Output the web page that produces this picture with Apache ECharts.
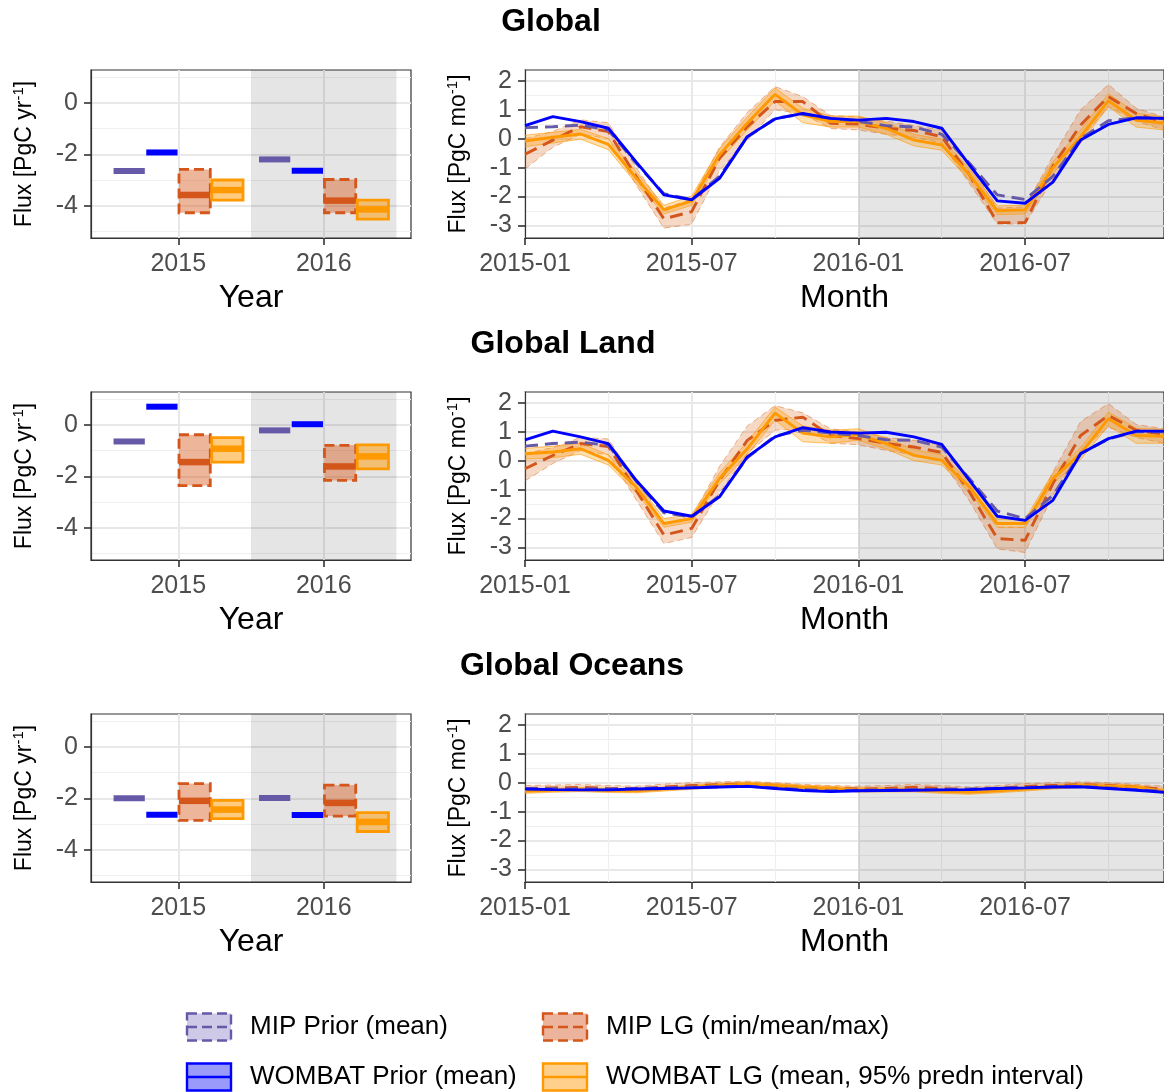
<!DOCTYPE html>
<html>
<head>
<meta charset="utf-8">
<script src="https://cdn.jsdelivr.net/npm/echarts@6/dist/echarts.min.js"></script>
<style>
  html, body { margin: 0; padding: 0; background: #fff; }
  #chart { width: 1164px; height: 1092px; }
</style>
</head>
<body>
<div id="chart"></div>
<script>
const years = [2015, 2016];
const monthLabels = [
  '2015-01', '2015-02', '2015-03', '2015-04', '2015-05', '2015-06',
  '2015-07', '2015-08', '2015-09', '2015-10', '2015-11', '2015-12',
  '2016-01', '2016-02', '2016-03', '2016-04', '2016-05', '2016-06',
  '2016-07', '2016-08', '2016-09', '2016-10', '2016-11', '2016-12'
];
const monthMajorTicks = [0, 6, 12, 18];
const monthMinorTicks = [3, 9, 15, 21];

// Global - annual
const globalYrMipPrior = [-2.65, -2.20];
const globalYrWombatPrior = [-1.93, -2.64];
const globalYrMipLg = [-3.58, -3.80];
const globalYrMipLgMin = [-4.27, -4.27];
const globalYrMipLgMax = [-2.59, -2.98];
const globalYrWombatLg = [-3.39, -4.14];
const globalYrWombatLgLo = [-3.78, -4.52];
const globalYrWombatLgHi = [-3.00, -3.78];

// Global - monthly
const globalMoMipPrior = [0.38, 0.41, 0.47, 0.30, -0.85, -1.90, -2.10, -1.30, 0.05, 0.70, 0.85, 0.70, 0.60, 0.45, 0.40, 0.15, -0.85, -1.94, -2.10, -1.30, 0.00, 0.62, 0.72, 0.70];
const globalMoWombatPrior = [0.45, 0.76, 0.59, 0.36, -0.80, -1.94, -2.11, -1.37, 0.07, 0.68, 0.87, 0.70, 0.64, 0.70, 0.59, 0.36, -0.91, -2.15, -2.23, -1.50, -0.05, 0.49, 0.72, 0.70];
const globalMoMipLg = [-0.54, -0.05, 0.41, 0.24, -1.30, -2.77, -2.52, -0.68, 0.41, 1.28, 1.28, 0.53, 0.50, 0.36, 0.28, 0.07, -1.25, -2.90, -2.90, -0.95, 0.47, 1.45, 0.87, 0.55];
const globalMoMipLgMin = [-1.05, -0.30, 0.15, 0.00, -1.60, -3.09, -2.95, -1.10, -0.05, 1.00, 0.85, 0.35, 0.30, 0.15, 0.05, -0.15, -1.55, -2.95, -2.95, -1.40, 0.00, 1.10, 0.60, 0.30];
const globalMoMipLgMax = [0.00, 0.25, 0.65, 0.55, -1.00, -2.40, -2.10, -0.30, 0.90, 1.80, 1.45, 0.80, 0.75, 0.60, 0.45, 0.30, -0.90, -2.40, -2.35, -0.60, 1.00, 1.87, 1.05, 0.75];
const globalMoWombatLg = [-0.08, 0.05, 0.16, -0.20, -1.36, -2.46, -2.15, -0.56, 0.53, 1.53, 0.82, 0.59, 0.59, 0.36, -0.05, -0.22, -1.25, -2.49, -2.46, -1.00, 0.07, 1.31, 0.64, 0.53];
const globalMoWombatLgLo = [-0.28, -0.15, -0.02, -0.38, -1.55, -2.60, -2.30, -0.75, 0.30, 1.30, 0.55, 0.40, 0.40, 0.15, -0.25, -0.40, -1.45, -2.62, -2.60, -1.20, -0.15, 1.10, 0.40, 0.30];
const globalMoWombatLgHi = [0.12, 0.22, 0.32, 0.00, -1.15, -2.30, -1.98, -0.35, 0.75, 1.75, 1.05, 0.78, 0.78, 0.55, 0.15, -0.02, -1.05, -2.32, -2.30, -0.80, 0.30, 1.55, 0.88, 0.75];

// Global Land - annual
const landYrMipPrior = [-0.65, -0.22];
const landYrWombatPrior = [0.70, 0.02];
const landYrMipLg = [-1.45, -1.62];
const landYrMipLgMin = [-2.36, -2.16];
const landYrMipLgMax = [-0.39, -0.80];
const landYrWombatLg = [-0.93, -1.23];
const landYrWombatLgLo = [-1.45, -1.71];
const landYrWombatLgHi = [-0.50, -0.78];

// Global Land - monthly
const landMoMipPrior = [0.50, 0.59, 0.64, 0.53, -0.70, -1.80, -1.95, -1.20, 0.10, 0.85, 1.05, 0.95, 0.87, 0.72, 0.70, 0.47, -0.62, -1.74, -2.00, -1.20, 0.25, 0.75, 1.00, 1.00];
const landMoWombatPrior = [0.72, 1.02, 0.82, 0.59, -0.68, -1.74, -1.92, -1.25, 0.13, 0.82, 1.14, 0.99, 0.95, 0.98, 0.82, 0.56, -0.68, -1.92, -2.06, -1.37, 0.24, 0.76, 1.02, 1.02];
const landMoMipLg = [-0.28, 0.18, 0.59, 0.49, -1.02, -2.57, -2.34, -0.68, 0.70, 1.39, 1.50, 0.87, 0.76, 0.59, 0.47, 0.28, -1.08, -2.69, -2.75, -0.79, 0.87, 1.56, 1.05, 0.90];
const landMoMipLgMin = [-0.70, -0.10, 0.35, 0.20, -1.35, -2.86, -2.65, -1.10, 0.25, 1.05, 1.10, 0.60, 0.55, 0.35, 0.20, 0.00, -1.40, -3.05, -3.17, -1.20, 0.35, 1.15, 0.80, 0.60];
const landMoMipLgMax = [0.25, 0.45, 0.80, 0.75, -0.70, -2.17, -1.95, -0.20, 1.20, 1.90, 1.65, 1.10, 1.00, 0.80, 0.70, 0.55, -0.75, -2.30, -2.30, -0.40, 1.35, 1.97, 1.25, 1.10];
const landMoWombatLg = [0.24, 0.30, 0.41, 0.01, -0.91, -2.17, -2.00, -0.62, 0.41, 1.64, 0.95, 0.82, 0.90, 0.59, 0.18, 0.01, -0.91, -2.17, -2.17, -0.62, 0.24, 1.45, 0.87, 0.84];
const landMoWombatLgLo = [0.05, 0.10, 0.22, -0.15, -1.10, -2.30, -2.12, -0.80, 0.20, 1.40, 0.65, 0.60, 0.70, 0.40, 0.00, -0.15, -1.10, -2.30, -2.30, -0.80, 0.05, 1.20, 0.60, 0.60];
const landMoWombatLgHi = [0.42, 0.50, 0.60, 0.20, -0.72, -2.00, -1.85, -0.42, 0.65, 1.85, 1.20, 1.05, 1.10, 0.78, 0.38, 0.20, -0.72, -2.02, -2.02, -0.42, 0.45, 1.68, 1.12, 1.08];

// Global Oceans - annual
const oceanYrMipPrior = [-2.00, -1.99];
const oceanYrWombatPrior = [-2.64, -2.65];
const oceanYrMipLg = [-2.10, -2.18];
const oceanYrMipLgMin = [-2.86, -2.69];
const oceanYrMipLgMax = [-1.43, -1.49];
const oceanYrWombatLg = [-2.44, -2.92];
const oceanYrWombatLgLo = [-2.79, -3.29];
const oceanYrWombatLgHi = [-2.08, -2.56];

// Global Oceans - monthly
const oceanMoMipPrior = [-0.20, -0.21, -0.22, -0.22, -0.20, -0.18, -0.16, -0.14, -0.12, -0.18, -0.24, -0.28, -0.26, -0.25, -0.24, -0.23, -0.22, -0.19, -0.17, -0.14, -0.13, -0.18, -0.24, -0.30];
const oceanMoWombatPrior = [-0.22, -0.24, -0.25, -0.25, -0.22, -0.20, -0.18, -0.15, -0.13, -0.20, -0.27, -0.31, -0.28, -0.27, -0.26, -0.25, -0.24, -0.20, -0.18, -0.15, -0.14, -0.20, -0.26, -0.33];
const oceanMoMipLg = [-0.20, -0.18, -0.16, -0.20, -0.22, -0.15, -0.10, -0.07, -0.05, -0.10, -0.16, -0.20, -0.22, -0.20, -0.16, -0.20, -0.25, -0.20, -0.13, -0.10, -0.07, -0.10, -0.16, -0.22];
const oceanMoMipLgMin = [-0.30, -0.28, -0.26, -0.30, -0.32, -0.25, -0.20, -0.17, -0.15, -0.20, -0.26, -0.30, -0.32, -0.30, -0.26, -0.30, -0.35, -0.30, -0.23, -0.20, -0.17, -0.20, -0.26, -0.32];
const oceanMoMipLgMax = [-0.10, -0.08, -0.06, -0.10, -0.12, -0.05, 0.00, 0.03, 0.05, 0.00, -0.06, -0.10, -0.12, -0.10, -0.06, -0.10, -0.15, -0.10, -0.03, 0.00, 0.03, 0.00, -0.06, -0.12];
const oceanMoWombatLg = [-0.30, -0.26, -0.24, -0.27, -0.28, -0.22, -0.16, -0.10, -0.05, -0.10, -0.16, -0.20, -0.25, -0.25, -0.25, -0.30, -0.33, -0.28, -0.22, -0.15, -0.10, -0.12, -0.16, -0.30];
const oceanMoWombatLgLo = [-0.37, -0.33, -0.31, -0.34, -0.35, -0.29, -0.23, -0.17, -0.12, -0.17, -0.23, -0.27, -0.32, -0.32, -0.32, -0.37, -0.40, -0.35, -0.29, -0.22, -0.17, -0.19, -0.23, -0.37];
const oceanMoWombatLgHi = [-0.23, -0.19, -0.17, -0.20, -0.21, -0.15, -0.09, -0.03, 0.02, -0.03, -0.09, -0.13, -0.18, -0.18, -0.18, -0.23, -0.26, -0.21, -0.15, -0.08, -0.03, -0.05, -0.09, -0.23];

const regions = [
  { title: 'Global', titleX: 551,
    yr: [globalYrMipPrior, globalYrWombatPrior, globalYrMipLg, globalYrMipLgMin, globalYrMipLgMax, globalYrWombatLg, globalYrWombatLgLo, globalYrWombatLgHi],
    mo: [globalMoMipPrior, globalMoWombatPrior, globalMoMipLg, globalMoMipLgMin, globalMoMipLgMax, globalMoWombatLg, globalMoWombatLgLo, globalMoWombatLgHi] },
  { title: 'Global Land', titleX: 563,
    yr: [landYrMipPrior, landYrWombatPrior, landYrMipLg, landYrMipLgMin, landYrMipLgMax, landYrWombatLg, landYrWombatLgLo, landYrWombatLgHi],
    mo: [landMoMipPrior, landMoWombatPrior, landMoMipLg, landMoMipLgMin, landMoMipLgMax, landMoWombatLg, landMoWombatLgLo, landMoWombatLgHi] },
  { title: 'Global Oceans', titleX: 572,
    yr: [oceanYrMipPrior, oceanYrWombatPrior, oceanYrMipLg, oceanYrMipLgMin, oceanYrMipLgMax, oceanYrWombatLg, oceanYrWombatLgLo, oceanYrWombatLgHi],
    mo: [oceanMoMipPrior, oceanMoWombatPrior, oceanMoMipLg, oceanMoMipLgMin, oceanMoMipLgMax, oceanMoWombatLg, oceanMoWombatLgLo, oceanMoWombatLgHi] }
];

const FONT = 'Liberation Sans, Arial, Helvetica, sans-serif';
const ROW_TOPS = [70, 392, 714];
const PANEL_H = 168;
const BOX_W = 0.215;

const styles = {
  mipPrior:    { line: '#6659a8', key: '#cdc9e6', dash: [10, 5] },
  wombatPrior: { line: '#0000ff', key: '#9a9afa', dash: null },
  mipLg:       { line: '#d4561a', key: '#ecb49c', dash: [10, 5], fill: 'rgba(214,92,28,0.45)', band: 'rgba(217,95,14,0.24)', edge: 'rgba(217,95,14,0.45)' },
  wombatLg:    { line: '#ff9900', key: '#ffd08c', dash: null, fill: 'rgba(255,153,0,0.5)', band: 'rgba(255,153,0,0.3)', edge: 'rgba(255,153,0,0.6)' }
};

const majorGrid = { show: true, lineStyle: { color: '#e8e8e8', width: 2 } };
const minorGrid = { show: true, lineStyle: { color: '#efefef', width: 1.2 } };

function axisLineOpt() {
  return { show: true, onZero: false, lineStyle: { color: '#333', width: 1.2 } };
}
function tickOpt(values) {
  return { show: true, customValues: values, length: 7, lineStyle: { color: '#333', width: 1.6 } };
}
function labelOpt(values, margin, formatter) {
  return { customValues: values, margin, formatter, color: '#4d4d4d', fontSize: 25, fontFamily: FONT };
}
const axisTitle = { fontSize: 32, fontFamily: FONT, color: '#000' };

const chart = echarts.init(document.getElementById('chart'));

const grids = [], xAxes = [], yAxes = [], series = [], graphics = [];

function crossbar(offset, st, isPrior) {
  return function (params, api) {
    const x = api.value(0) + offset;
    const mean = api.value(1), lo = api.value(2), hi = api.value(3);
    const a = api.coord([x - BOX_W / 2, hi]);
    const b = api.coord([x + BOX_W / 2, lo]);
    const ml = api.coord([x - BOX_W / 2, mean]);
    const mr = api.coord([x + BOX_W / 2, mean]);
    const children = [];
    if (!isPrior) {
      children.push({
        type: 'rect',
        shape: { x: a[0], y: a[1], width: b[0] - a[0], height: b[1] - a[1] },
        style: { fill: st.fill, stroke: st.line, lineWidth: 2.8, lineDash: st.dash }
      });
    }
    children.push({
      type: 'line',
      shape: { x1: ml[0], y1: ml[1], x2: mr[0], y2: mr[1] },
      style: { stroke: st.line, lineWidth: isPrior ? 6 : 6.5 }
    });
    return { type: 'group', children };
  };
}

function band(lo, hi, st) {
  return function (params, api) {
    if (params.dataIndex !== 0) return null;
    const upper = hi.map((v, i) => api.coord([i, v]));
    const lower = lo.map((v, i) => api.coord([i, v]));
    const edgeStyle = { stroke: st.edge, lineWidth: 1, fill: null, lineDash: st.dash ? [6, 4] : null };
    return {
      type: 'group',
      children: [
        { type: 'polygon', shape: { points: upper.concat(lower.slice().reverse()) }, style: { fill: st.band } },
        { type: 'polyline', shape: { points: upper }, style: edgeStyle },
        { type: 'polyline', shape: { points: lower }, style: edgeStyle }
      ]
    };
  };
}

function lineSeries(xi, yi, values, st, z) {
  return {
    type: 'line', xAxisIndex: xi, yAxisIndex: yi, z: z, silent: true,
    data: values.map((v, i) => [i, v]),
    symbol: 'none',
    lineStyle: { color: st.line, width: 2.9, type: st.dash ? [13, 7] : 'solid' }
  };
}

const fluxRich = {
  a: { fontSize: 23, fontFamily: FONT, color: '#000', lineHeight: 28 },
  s: { fontSize: 15, fontFamily: FONT, color: '#000', verticalAlign: 'top', lineHeight: 15 }
};

// returns index of the major y axis
function addYAxes(gi, min, max, major, minor, unit) {
  const idx = yAxes.length;
  yAxes.push({
    type: 'value', gridIndex: gi, min, max, position: 'left',
    name: '{a|Flux [PgC ' + unit + '}{s|-1}{a|]}', nameLocation: 'middle', nameGap: 52,
    nameTextStyle: { rich: fluxRich },
    axisLine: axisLineOpt(),
    axisTick: tickOpt(major),
    axisLabel: labelOpt(major, 13, v => String(v)),
    splitLine: majorGrid
  });
  yAxes.push({
    type: 'value', gridIndex: gi, min, max, position: 'right',
    axisLine: { show: false, onZero: false },
    axisTick: { show: false, customValues: minor },
    axisLabel: { show: false },
    splitLine: minorGrid
  });
  return idx;
}

regions.forEach((reg, r) => {
  const top = ROW_TOPS[r];
  const gA = grids.length;
  grids.push({ left: 91, top, width: 320, height: PANEL_H, show: true, borderColor: '#333', borderWidth: 1.2, outerBoundsMode: 'none' });
  const gM = grids.length;
  grids.push({ left: 525, top, width: 639, height: PANEL_H, show: true, borderColor: '#333', borderWidth: 1.2, outerBoundsMode: 'none' });

  const xA = xAxes.length;
  xAxes.push({
    type: 'value', gridIndex: gA, min: 2014.4, max: 2016.6, position: 'bottom',
    name: 'Year', nameLocation: 'middle', nameGap: 44, nameTextStyle: axisTitle,
    axisLine: axisLineOpt(),
    axisTick: tickOpt(years),
    axisLabel: labelOpt(years, 14, v => String(v)),
    splitLine: majorGrid
  });
  const xM = xAxes.length;
  xAxes.push({
    type: 'value', gridIndex: gM, min: 0, max: 23, position: 'bottom',
    name: 'Month', nameLocation: 'middle', nameGap: 44, nameTextStyle: axisTitle,
    axisLine: axisLineOpt(),
    axisTick: tickOpt(monthMajorTicks),
    axisLabel: labelOpt(monthMajorTicks, 14, v => monthLabels[v] || ''),
    splitLine: majorGrid
  });
  xAxes.push({
    type: 'value', gridIndex: gM, min: 0, max: 23, position: 'top',
    axisLine: { show: false, onZero: false },
    axisTick: { show: false, customValues: monthMinorTicks },
    axisLabel: { show: false },
    splitLine: minorGrid
  });

  const yA = addYAxes(gA, -5.25, 1.27, [-4, -2, 0], [-5, -3, -1, 1], 'yr');
  const yM = addYAxes(gM, -3.43, 2.37, [-3, -2, -1, 0, 1, 2], [-2.5, -1.5, -0.5, 0.5, 1.5], 'mo');

  const [pMip, pWom, lgMip, lgMipMin, lgMipMax, lgWom, lgWomLo, lgWomHi] = reg.yr;
  series.push({
    type: 'custom', xAxisIndex: xA, yAxisIndex: yA, z: 3, clip: true, silent: true,
    data: years.map((y, i) => [y, pMip[i], pMip[i], pMip[i]]),
    renderItem: crossbar(-0.3375, styles.mipPrior, true),
    markArea: { silent: true, itemStyle: { color: 'rgba(0,0,0,0.1)' }, data: [[{ xAxis: 2015.5 }, { xAxis: 2016.5 }]] }
  });
  series.push({
    type: 'custom', xAxisIndex: xA, yAxisIndex: yA, z: 3, clip: true, silent: true,
    data: years.map((y, i) => [y, pWom[i], pWom[i], pWom[i]]),
    renderItem: crossbar(-0.1125, styles.wombatPrior, true)
  });
  series.push({
    type: 'custom', xAxisIndex: xA, yAxisIndex: yA, z: 3, clip: true, silent: true,
    data: years.map((y, i) => [y, lgMip[i], lgMipMin[i], lgMipMax[i]]),
    renderItem: crossbar(0.1125, styles.mipLg, false)
  });
  series.push({
    type: 'custom', xAxisIndex: xA, yAxisIndex: yA, z: 3, clip: true, silent: true,
    data: years.map((y, i) => [y, lgWom[i], lgWomLo[i], lgWomHi[i]]),
    renderItem: crossbar(0.3375, styles.wombatLg, false)
  });

  const [mMip, mWom, mLgMip, mLgMipMin, mLgMipMax, mLgWom, mLgWomLo, mLgWomHi] = reg.mo;
  series.push({
    type: 'custom', xAxisIndex: xM, yAxisIndex: yM, z: 3, clip: true, silent: true,
    data: mLgMipMin.map((v, i) => [i, v, mLgMipMax[i]]),
    encode: { x: 0, y: [1, 2] },
    renderItem: band(mLgMipMin, mLgMipMax, styles.mipLg),
    markArea: { silent: true, itemStyle: { color: 'rgba(0,0,0,0.1)' }, data: [[{ xAxis: 12 }, { xAxis: 23 }]] }
  });
  series.push({
    type: 'custom', xAxisIndex: xM, yAxisIndex: yM, z: 3, clip: true, silent: true,
    data: mLgWomLo.map((v, i) => [i, v, mLgWomHi[i]]),
    encode: { x: 0, y: [1, 2] },
    renderItem: band(mLgWomLo, mLgWomHi, styles.wombatLg)
  });
  series.push(lineSeries(xM, yM, mLgMip, styles.mipLg, 4));
  series.push(lineSeries(xM, yM, mLgWom, styles.wombatLg, 5));
  series.push(lineSeries(xM, yM, mMip, styles.mipPrior, 6));
  series.push(lineSeries(xM, yM, mWom, styles.wombatPrior, 7));

  graphics.push({
    type: 'text', x: reg.titleX, y: top - 48,
    style: { text: reg.title, font: 'bold 32px ' + FONT, fill: '#000', textAlign: 'center', textVerticalAlign: 'middle' }
  });
});

// legend
const legendItems = [
  { label: 'MIP Prior (mean)', x: 187, y: 1027, st: styles.mipPrior },
  { label: 'MIP LG (min/mean/max)', x: 543, y: 1027, st: styles.mipLg },
  { label: 'WOMBAT Prior (mean)', x: 187, y: 1077, st: styles.wombatPrior },
  { label: 'WOMBAT LG (mean, 95% predn interval)', x: 543, y: 1077, st: styles.wombatLg }
];
legendItems.forEach(it => {
  const w = 44, h = 27;
  graphics.push({
    type: 'rect', shape: { x: it.x, y: it.y - h / 2, width: w, height: h },
    style: { fill: it.st.key, stroke: it.st.line, lineWidth: 2.4, lineDash: it.st.dash }
  });
  graphics.push({
    type: 'line', shape: { x1: it.x, y1: it.y, x2: it.x + w, y2: it.y },
    style: { stroke: it.st.line, lineWidth: 2.4, lineDash: it.st.dash }
  });
  graphics.push({
    type: 'text', x: it.x + 63, y: it.y,
    style: { text: it.label, font: '26px ' + FONT, fill: '#000', textVerticalAlign: 'middle' }
  });
});

chart.setOption({
  animation: false,
  backgroundColor: '#fff',
  grid: grids,
  xAxis: xAxes,
  yAxis: yAxes,
  series: series,
  graphic: graphics
});
</script>
</body>
</html>
